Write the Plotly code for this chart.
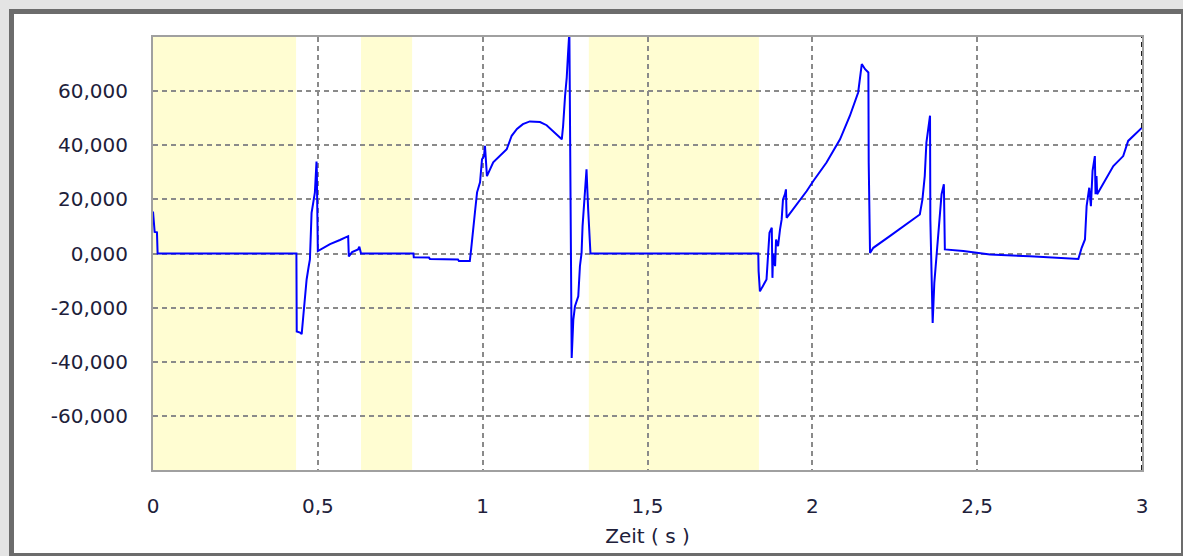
import plotly.graph_objects as go

# Time axis (s) and signal values of the recorded trace
zeit = [
    0.000, 0.005, 0.012, 0.014, 0.435, 0.436, 0.446, 0.451, 0.456, 0.461,
    0.466, 0.472, 0.476, 0.481, 0.485, 0.491, 0.496, 0.497, 0.500, 0.537,
    0.567, 0.592, 0.594, 0.604, 0.622, 0.626, 0.631, 0.790, 0.791, 0.837,
    0.840, 0.925, 0.928, 0.961, 0.965, 0.971, 0.977, 0.983, 0.992, 0.998,
    1.004, 1.007, 1.013, 1.032, 1.052, 1.073, 1.088, 1.104, 1.122, 1.143,
    1.174, 1.194, 1.240, 1.244, 1.250, 1.255, 1.259, 1.263, 1.270, 1.275,
    1.280, 1.290, 1.295, 1.300, 1.303, 1.310, 1.315, 1.320, 1.325, 1.327,
    1.836, 1.837, 1.841, 1.850, 1.861, 1.866, 1.870, 1.877, 1.879, 1.881,
    1.887, 1.890, 1.896, 1.902, 1.907, 1.911, 1.917, 1.920, 1.922, 1.983,
    2.003, 2.043, 2.084, 2.114, 2.139, 2.150, 2.160, 2.170, 2.171, 2.175,
    2.185, 2.235, 2.286, 2.326, 2.334, 2.341, 2.346, 2.352, 2.357, 2.358,
    2.365, 2.370, 2.377, 2.384, 2.392, 2.399, 2.401, 2.402, 2.458, 2.539,
    2.660, 2.787, 2.807, 2.817, 2.827, 2.832, 2.840, 2.845, 2.850, 2.857,
    2.859, 2.862, 2.864, 2.913, 2.943, 2.958, 3.000,
]
wert = [
    15.5, 8.0, 7.8, 0.0, 0.0, -28.8, -29.2, -29.8, -23.0, -15.0,
    -9.6, -5.0, -2.2, 15.0, 18.0, 22.5, 34.0, 30.0, 0.9, 3.5,
    5.0, 6.4, -1.1, 0.5, 1.5, 2.5, 0.0, 0.0, -1.4, -1.5,
    -2.0, -2.2, -2.8, -2.8, 1.5, 7.7, 15.7, 22.6, 26.3, 34.8,
    36.0, 39.8, 28.6, 33.7, 36.0, 38.5, 43.5, 46.0, 47.8, 48.8,
    48.6, 47.4, 42.2, 47.1, 58.3, 65.0, 74.0, 82.0, -38.6, -24.4,
    -19.5, -15.8, -4.7, 0.2, 10.1, 21.2, 31.1, 16.3, 0.2, 0.0,
    0.0, -6.5, -14.0, -12.0, -9.6, 0.0, 7.7, 9.5, -9.0, 0.0,
    -4.7, 5.2, 2.7, 8.9, 12.6, 20.0, 21.9, 23.7, 13.2, 23.1,
    26.8, 33.6, 42.2, 50.9, 59.5, 70.0, 68.1, 66.9, 33.6, 0.2,
    2.1, 6.4, 10.7, 14.4, 20.0, 28.6, 41.0, 47.1, 50.9, 12.6,
    -25.7, -10.9, 0.2, 7.7, 21.9, 25.6, 15.0, 1.5, 0.9, -0.4,
    -1.0, -2.0, -2.0, 2.1, 5.2, 17.5, 24.3, 17.5, 30.5, 36.0,
    21.9, 28.6, 21.9, 32.3, 36.0, 41.6, 46.5,
]

# Highlighted time intervals (start, end) in s
bereich_start = [0.0, 0.631, 1.322]
bereich_ende = [0.434, 0.786, 1.838]

# Axis ticks and their labels
x_ticks = [0, 0.5, 1, 1.5, 2, 2.5, 3]
x_labels = ["0", "0,5", "1", "1,5", "2", "2,5", "3"]
y_ticks = [-60, -40, -20, 0, 20, 40, 60]
y_labels = ["-60,000", "-40,000", "-20,000", "0,000", "20,000", "40,000", "60,000"]

W, H = 1183, 556
L, R, T, B = 153, 1142, 37, 470


def px(xp):
    return (xp - L) / (R - L)


def py(yp):
    return (B - yp) / (B - T)


fig = go.Figure()
fig.add_trace(go.Scatter(
    x=zeit, y=wert, mode="lines",
    line=dict(color="#0000ff", width=2),
    hoverinfo="skip", showlegend=False,
))

shapes = []
# window frame
shapes.append(dict(type="rect", xref="paper", yref="paper", layer="below",
                   x0=px(0), x1=px(W), y0=py(H), y1=py(0),
                   fillcolor="#e4e4e4", line=dict(width=0)))
shapes.append(dict(type="rect", xref="paper", yref="paper", layer="below",
                   x0=px(9), x1=px(W), y0=py(H), y1=py(9),
                   fillcolor="#6c6c6c", line=dict(width=0)))
shapes.append(dict(type="rect", xref="paper", yref="paper", layer="below",
                   x0=px(14), x1=px(1181), y0=py(553), y1=py(14),
                   fillcolor="#ffffff", line=dict(width=0)))
# highlighted intervals
for a, e in zip(bereich_start, bereich_ende):
    shapes.append(dict(type="rect", xref="x", yref="paper", layer="below",
                       x0=a, x1=e, y0=0, y1=1,
                       fillcolor="#fffdd2", line=dict(width=0)))
# right border of plot area
shapes.append(dict(type="line", xref="x", yref="paper", layer="above",
                   x0=3, x1=3, y0=0, y1=1,
                   line=dict(color="#1c1c1c", width=2, dash="5px,4px")))

fontcol = "#20203a"
fig.update_layout(
    width=W, height=H,
    margin=dict(l=L, r=W - R, t=T, b=H - B, pad=0, autoexpand=False),
    paper_bgcolor="rgba(0,0,0,0)",
    plot_bgcolor="rgba(0,0,0,0)",
    font=dict(family="DejaVu Sans", size=20, color=fontcol),
    shapes=shapes,
    showlegend=False,
)
fig.update_xaxes(
    range=[0, 3], tickvals=x_ticks, ticktext=x_labels, automargin=False,
    showgrid=True, gridcolor="#8a8a8a", gridwidth=1.5, griddash="5px,4px",
    zeroline=False, showline=True, mirror=True, linecolor="#a0a0a0", linewidth=2,
    ticks="", ticklabelstandoff=17,
    title=dict(text="Zeit ( s )", standoff=12, font=dict(size=20, color=fontcol)),
)
fig.update_yaxes(
    range=[-80, 80], tickvals=y_ticks, ticktext=y_labels, automargin=False,
    showgrid=True, gridcolor="#8a8a8a", gridwidth=1.5, griddash="5px,4px",
    zeroline=False, showline=True, mirror=True, linecolor="#a0a0a0", linewidth=2,
    ticks="", ticklabelstandoff=19,
)

fig.write_html("out.html")
